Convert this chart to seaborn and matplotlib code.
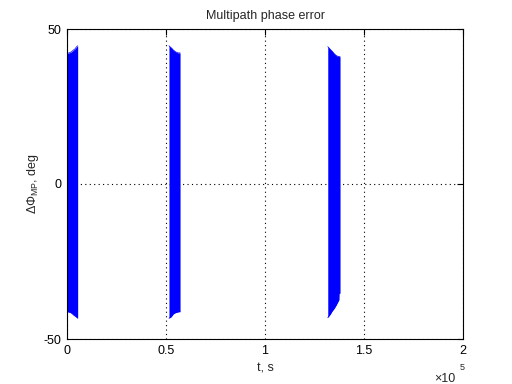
import numpy as np
import pandas as pd
import matplotlib
matplotlib.use("Agg")
import matplotlib.pyplot as plt
import seaborn as sns

# ---- data (envelope of the fast oscillating phase error) ----
band1_t     = [0, 350, 1500, 2370, 3200, 4040, 4880, 5390]
band1_upper = [42.2, 42.2, 42.4, 42.7, 43.2, 43.6, 44.3, 44.6]
band1_lower = [-41.2, -41.2, -41.4, -41.7, -42.2, -42.6, -43.0, -43.3]

band2_t     = [51500, 52500, 52900, 53700, 54500, 54900, 55400, 55900, 56600, 57100]
band2_upper = [44.6, 44.0, 43.8, 43.2, 42.8, 42.6, 42.5, 42.3, 42.3, 42.3]
band2_lower = [-43.3, -42.9, -42.6, -41.9, -41.6, -41.5, -41.4, -41.3, -41.2, -41.2]

band3_t     = [131700, 132500, 133000, 133800, 135000, 136000, 137300, 137400, 137900]
band3_upper = [44.3, 43.8, 43.4, 42.9, 42.0, 41.4, 41.1, 41.1, 41.1]
band3_lower = [-43.1, -42.4, -42.0, -41.1, -40.1, -39.0, -37.4, -35.2, -35.2]

x_ticks = [0, 50000, 100000, 150000, 200000]
x_tick_labels = ["0", "0.5", "1", "1.5", "2"]
y_ticks = [-50, 0, 50]
y_tick_labels = ["-50", "0", "50"]

title = "Multipath phase error"
xlabel = "t, s"
ylabel = r"$\Delta\Phi_{\mathrm{MP}}$, deg"

# ---- build table ----
rows = []
for name, t, up, lo in [("b1", band1_t, band1_upper, band1_lower),
                        ("b2", band2_t, band2_upper, band2_lower),
                        ("b3", band3_t, band3_upper, band3_lower)]:
    for ti, u, l in zip(t, up, lo):
        rows.append({"band": name, "t": ti, "upper": u, "lower": l})
df = pd.DataFrame(rows)

sns.set_theme(style="white")
plt.rcParams["font.family"] = ["Liberation Sans", "DejaVu Sans"]
plt.rcParams["mathtext.fontset"] = "custom"
plt.rcParams["mathtext.rm"] = "Liberation Sans"
plt.rcParams["mathtext.it"] = "Liberation Sans:italic"
plt.rcParams["mathtext.sf"] = "Liberation Sans"

fs = 9
fig = plt.figure(figsize=(5.12, 3.84), dpi=100)
ax = fig.add_axes([67/512, 1-339/384, (463-67)/512, (339-29)/384])

blue = "#0000FF"
for name, g in df.groupby("band"):
    ax.fill_between(g["t"], g["lower"], g["upper"], color=blue, linewidth=0)
long = df.melt(id_vars=["band", "t"], value_vars=["upper", "lower"],
               var_name="edge", value_name="v")
long["unit"] = long["band"] + long["edge"]
sns.lineplot(data=long, x="t", y="v", units="unit", estimator=None,
             color=blue, linewidth=0.5, ax=ax, legend=False)

ax.set_xlim(0, 200000)
ax.set_ylim(-50, 50)
ax.set_xticks(x_ticks)
ax.set_xticklabels(x_tick_labels)
ax.set_yticks(y_ticks)
ax.set_yticklabels(y_tick_labels)
ax.grid(True, color="black", linestyle=(0, (1, 3)), linewidth=0.8)
ax.tick_params(direction="in", length=4, width=0.8, colors="black",
               labelsize=fs, top=True, right=True, pad=4)
for s in ax.spines.values():
    s.set_color("black")
    s.set_linewidth(0.8)
ax.set_title(title, fontsize=fs, pad=7)
ax.set_xlabel(xlabel, fontsize=fs, labelpad=4)
ax.set_ylabel(ylabel, fontsize=fs, labelpad=2)

fig.text(445/512, 1-379/384, "×10", fontsize=fs, ha="center", va="center")
fig.text(462/512, 1-368/384, "5", fontsize=6.5, ha="center", va="center")

fig.savefig("out.png", dpi=100, facecolor="white")
